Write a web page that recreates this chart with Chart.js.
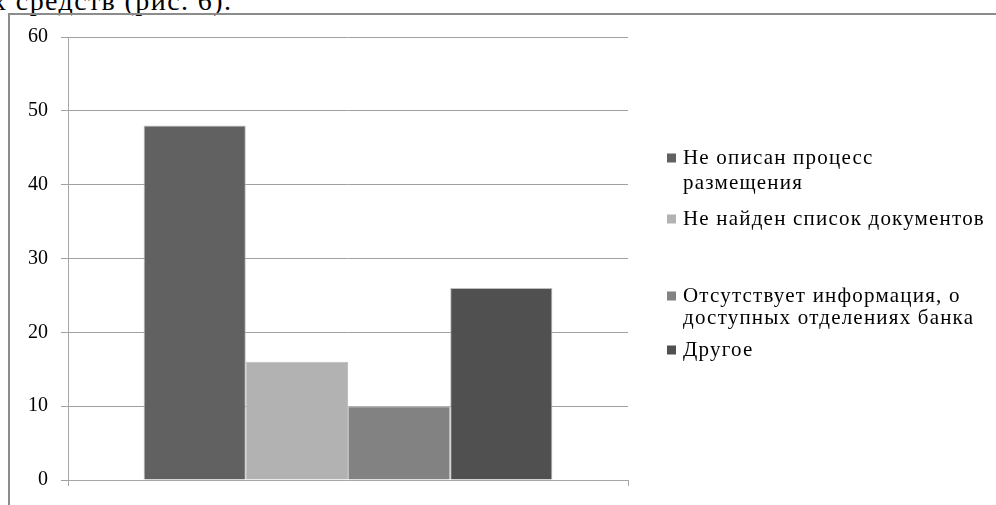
<!DOCTYPE html>
<html>
<head>
<meta charset="utf-8">
<script src="https://cdn.jsdelivr.net/npm/chart.js@4.4.1/dist/chart.umd.min.js"></script>
<style>
  html, body { margin: 0; padding: 0; background: #fff; overflow: hidden; }
  body { width: 996px; height: 505px; position: relative; }
  #caption {
    position: absolute; left: -8px; top: -13px;
    font-family: "Liberation Serif", "Times New Roman", serif;
    font-size: 28px; line-height: 28px; letter-spacing: 1.4px; color: #000; white-space: nowrap;
  }
  #frame {
    position: absolute; left: 8px; top: 13px; width: 986px; height: 520px;
    border-left: 2px solid #8c8c8c; border-top: 2px solid #8c8c8c;
    border-right: 2px solid #8c8c8c;
  }
  #wrap { position: absolute; left: 0; top: 0; width: 996px; height: 505px; }
</style>
</head>
<body>
<div id="caption">х средств (рис. 6).</div>
<div id="frame"></div>
<div id="wrap"><canvas id="c" width="996" height="505"></canvas></div>
<script>
// Survey answers: what users could not find on the bank site
const categories = [''];
const seriesNames = [
  'Не описан процесс размещения',
  'Не найден список документов',
  'Отсутствует информация, о доступных отделениях банка',
  'Другое'
];
// legend text as it wraps in the side box
const legendLines = [
  ['Не описан процесс', 'размещения'],
  ['Не найден список документов'],
  ['Отсутствует информация, о', 'доступных отделениях банка'],
  ['Другое']
];
const seriesValues = [48, 16, 10, 26];
const seriesColors = ['#616161', '#b2b2b2', '#828282', '#505050'];
const yTicks = [0, 10, 20, 30, 40, 50, 60];

const FONT = '"Liberation Serif", "Times New Roman", serif';

// Legend to the right of the plot, one square + wrapped text per series
const sideLegend = {
  id: 'sideLegend',
  afterDraw(chart) {
    const ctx = chart.ctx;
    const lineY = [[158, 183], [219], [296, 318], [350]];
    ctx.save();
    ctx.font = '21px ' + FONT;
    ctx.letterSpacing = '1.2px';
    ctx.textBaseline = 'middle';
    chart.data.datasets.forEach((ds, i) => {
      const ys = lineY[i];
      ctx.fillStyle = ds.backgroundColor;
      ctx.fillRect(667, ys[0] - 4.5, 9, 9);
      ctx.fillStyle = '#000';
      legendLines[i].forEach((t, k) => ctx.fillText(t, 683, ys[k]));
    });
    ctx.restore();
  }
};

new Chart(document.getElementById('c'), {
  type: 'bar',
  data: {
    labels: categories,
    datasets: seriesNames.map((name, i) => ({
      label: name,
      data: [seriesValues[i]],
      backgroundColor: seriesColors[i],
      borderColor: '#bdbdbd',
      borderWidth: 1,
      categoryPercentage: 0.73,
      barPercentage: 1
    }))
  },
  options: {
    responsive: false,
    animation: false,
    devicePixelRatio: 1,
    layout: { padding: { left: 0, right: 368, top: 37, bottom: 0 } },
    plugins: { legend: { display: false }, tooltip: { enabled: false } },
    scales: {
      x: {
        grid: { display: true, drawOnChartArea: false, color: '#a6a6a6', tickLength: 6 },
        border: { display: true, color: '#a6a6a6', width: 1 },
        ticks: { display: false },
        afterFit: s => { s.height = 19; }
      },
      y: {
        min: 0, max: 60,
        afterBuildTicks: s => { s.ticks = yTicks.map(v => ({ value: v })); },
        grid: { color: '#a0a0a0', tickLength: 7 },
        border: { display: true, color: '#a6a6a6', width: 1 },
        ticks: { color: '#000', font: { family: FONT, size: 20 }, padding: 13 },
        afterFit: s => { s.width = 68; }
      }
    }
  },
  plugins: [sideLegend]
});
</script>
</body>
</html>
